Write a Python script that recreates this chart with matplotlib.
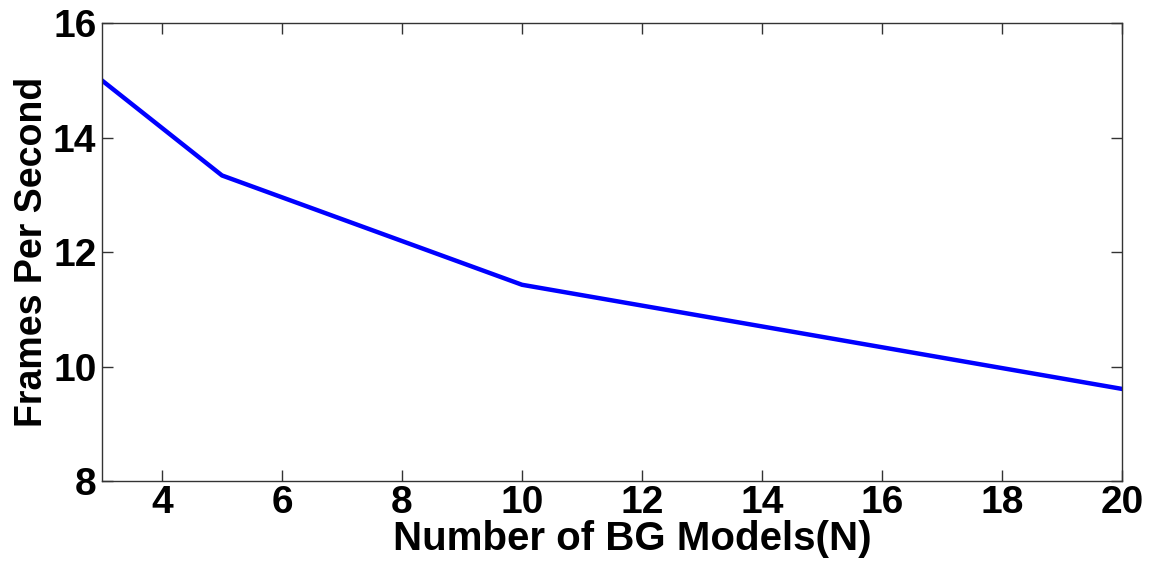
import matplotlib
matplotlib.use("Agg")
import matplotlib.pyplot as plt

# number of background models vs frame rate
models = [3, 5, 10, 20]
fps = [15.0, 13.34, 11.43, 9.61]

plt.rcParams['font.family'] = ['Liberation Sans', 'DejaVu Sans']
plt.rcParams['font.weight'] = 'bold'

fig = plt.figure(figsize=(11.6, 5.66), dpi=100)
ax = fig.add_axes([0.0879, 0.150, 0.8795, 0.809])

ax.plot(models, fps, color='#0000ff', linewidth=3.2)

ax.set_xlim(3, 20)
ax.set_ylim(8, 16)
ax.set_xticks([4, 6, 8, 10, 12, 14, 16, 18, 20])
ax.set_yticks([8, 10, 12, 14, 16])
ax.tick_params(direction='in', length=8, width=1, top=True, right=True,
               labelsize=28, pad=4, color='#333333')
ax.tick_params(axis='x', pad=3)
for lab in ax.get_xticklabels() + ax.get_yticklabels():
    lab.set_fontweight('bold')
for sp in ax.spines.values():
    sp.set_color('#333333')
    sp.set_linewidth(1)

ax.set_xlabel("Number of BG Models(N)", fontsize=29, fontweight='bold', labelpad=-1)
ax.xaxis.set_label_coords(0.52, -0.085)
ax.xaxis.label.set_va('top')
ax.set_ylabel("Frames Per Second", fontsize=27, fontweight='bold', labelpad=2)

fig.savefig("out.png", dpi=100)
